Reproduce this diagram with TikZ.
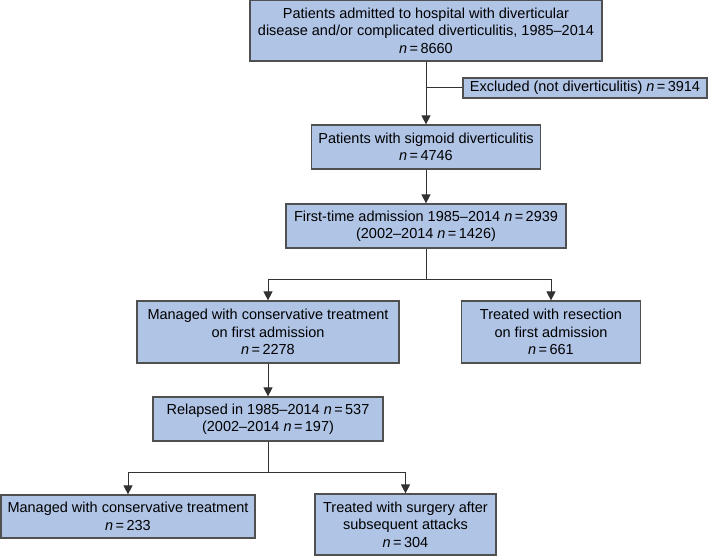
\documentclass[tikz,border=0pt]{standalone}
\usepackage{fontspec}
\setmainfont{Liberation Sans}
\usetikzlibrary{arrows.meta}
\definecolor{boxfill}{RGB}{176,196,230}
\definecolor{boxline}{RGB}{80,80,80}
\definecolor{linkline}{RGB}{50,50,50}
\newcommand{\nval}[1]{\textit{n}\,=\,#1}
\tikzset{
  flowbox/.style={draw=boxline,fill=boxfill,line width=1.2pt,inner sep=0pt,
    align=center,font=\fontsize{14.5}{17.5}\selectfont},
  link/.style={draw=linkline,line width=1pt},
  arrowlink/.style={link,-{Triangle[length=9pt,width=9pt]}}
}
\begin{document}
\begin{tikzpicture}[x=1pt,y=-1pt]
\useasboundingbox (0,0) rectangle (709,556);

% boxes
\node[flowbox,minimum width=352,minimum height=61] (b1) at (426,30.5)
  {Patients admitted to hospital with diverticular\\disease and/or complicated diverticulitis, 1985--2014\\\nval{8660}};
\node[flowbox,minimum width=244,minimum height=20] (excl) at (585,88)
  {Excluded (not diverticulitis) \nval{3914}};
\node[flowbox,minimum width=229,minimum height=44] (b2) at (426,147)
  {Patients with sigmoid diverticulitis\\\nval{4746}};
\node[flowbox,minimum width=280,minimum height=44] (b3) at (426,226)
  {First-time admission 1985--2014 \nval{2939}\\(2002--2014 \nval{1426})};
\node[flowbox,minimum width=262,minimum height=62] (b4) at (268,332)
  {Managed with conservative treatment\\on first admission\\\nval{2278}};
\node[flowbox,minimum width=179,minimum height=62] (b5) at (551,332)
  {Treated with resection\\on first admission\\\nval{661}};
\node[flowbox,minimum width=230,minimum height=44] (b6) at (268,419)
  {Relapsed in 1985--2014 \nval{537}\\(2002--2014 \nval{197})};
\node[flowbox,minimum width=254,minimum height=43] (b7) at (128,516.5)
  {Managed with conservative treatment\\\nval{233}};
\node[flowbox,minimum width=181,minimum height=61] (b8) at (405.5,524.5)
  {Treated with surgery after\\subsequent attacks\\\nval{304}};

% connectors
\coordinate (split1) at (426,279);
\coordinate (split2) at (268,472);
\draw[arrowlink] (b1.south) -- (b2.north);
\draw[link] (excl.west) -- (excl.west -| b1.south);
\draw[arrowlink] (b2.south) -- (b3.north);
\draw[link] (b3.south) -- (split1);
\draw[arrowlink] (split1) -| (b4.north);
\draw[arrowlink] (split1) -| (b5.north);
\draw[arrowlink] (b4.south) -- (b6.north);
\draw[link] (b6.south) -- (split2);
\draw[arrowlink] (split2) -| (b7.north);
\draw[arrowlink] (split2) -| (b8.north);
\end{tikzpicture}
\end{document}
